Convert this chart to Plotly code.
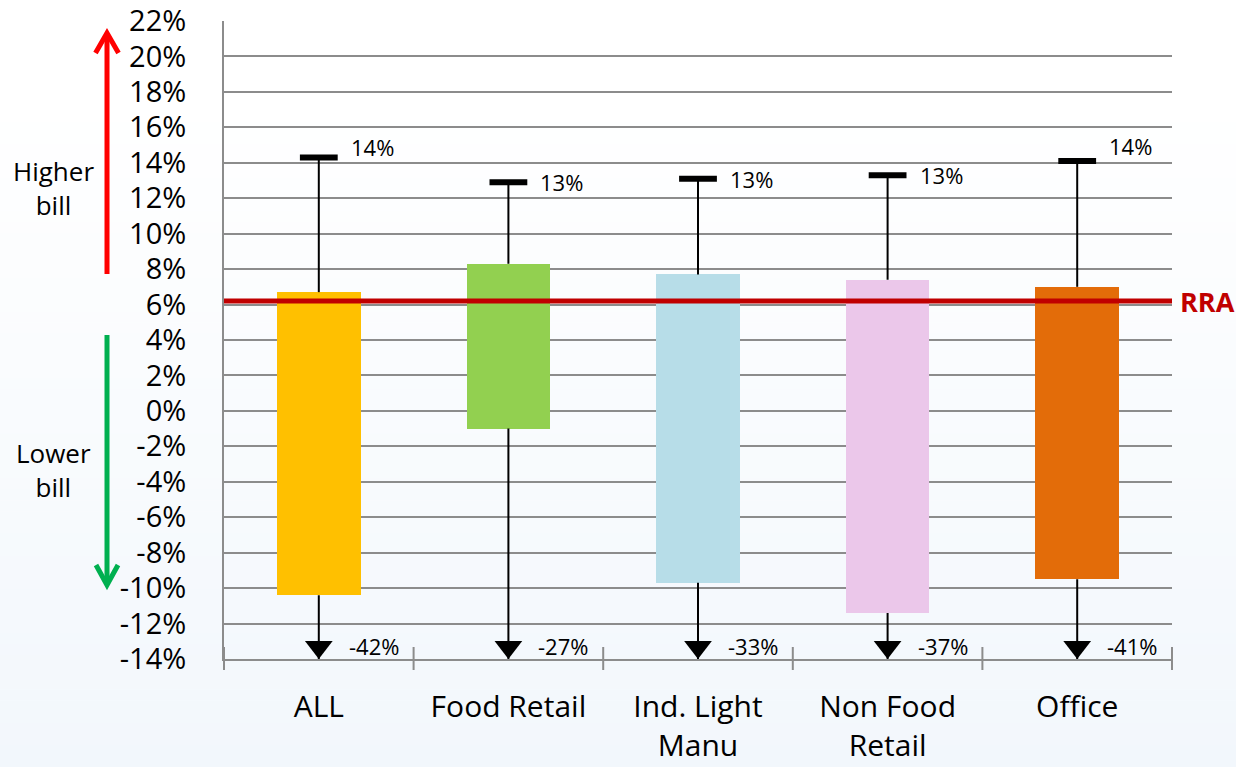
import plotly.graph_objects as go

# ---- data -------------------------------------------------------------
categories = ["ALL", "Food Retail", "Ind. Light<br>Manu", "Non Food<br>Retail", "Office"]
box_low = [-10.4, -1.0, -9.7, -11.4, -9.5]      # lower edge of the box (%)
box_high = [6.7, 8.3, 7.7, 7.4, 7.0]            # upper edge of the box (%)
whisker_max = [14.3, 12.9, 13.1, 13.3, 14.1]     # maximum (%)
whisker_min = [-42, -27, -33, -37, -41]          # minimum (%)
rra_level = 6.2                                  # RRA reference level (%)
y_ticks = list(range(-14, 23, 2))
y_tick_text = [f"{v}%" for v in y_ticks]

# ---- styling ----------------------------------------------------------
box_colors = ["#FFC000", "#92D050", "#B7DDE8", "#EBC7EA", "#E36C09"]
FONT = "Open Sans"
W, H = 1236, 767
ML, MR, MT, MB = 224, 64, 21, 108
PW, PH = W - ML - MR, H - MT - MB
Y_MIN, Y_MAX = y_ticks[0], y_ticks[-1]
GRID = "#8C8C8C"
label_lift = [10, 0, 0, 0, 15]  # vertical nudge of the max labels (px)


def px_x(x):
    return (x - ML) / PW


def px_y(y):
    return (H - MB - y) / PH


n = len(categories)
idx = list(range(n))
units_per_px = (Y_MAX - Y_MIN) / PH

fig = go.Figure()

# RRA reference line across the full plot width
fig.add_trace(go.Scatter(
    x=[-0.5, n - 0.5], y=[rra_level, rra_level], mode="lines",
    line=dict(color="#C00000", width=5), hoverinfo="skip", showlegend=False))

# whiskers (upper: box top -> max, lower: box bottom -> min, clipped by axis)
for i in idx:
    fig.add_trace(go.Scatter(
        x=[i, i], y=[box_high[i], whisker_max[i]], mode="lines",
        line=dict(color="black", width=2), hoverinfo="skip", showlegend=False))
    fig.add_trace(go.Scatter(
        x=[i, i], y=[box_low[i], whisker_min[i]], mode="lines",
        line=dict(color="black", width=2), hoverinfo="skip", showlegend=False))

# floating boxes
fig.add_trace(go.Bar(
    x=idx, y=[h - l for h, l in zip(box_high, box_low)], base=box_low,
    width=0.44, marker=dict(color=box_colors, line=dict(width=0)),
    hoverinfo="skip", showlegend=False))

# caps at the maxima
fig.add_trace(go.Scatter(
    x=idx, y=whisker_max, mode="markers",
    marker=dict(symbol="line-ew", size=27, line=dict(width=6, color="black")),
    hoverinfo="skip", showlegend=False, cliponaxis=False))

# arrow heads where the minimum falls below the axis
arrow_size = 24
arrow_x = [i for i in idx if whisker_min[i] < Y_MIN]
fig.add_trace(go.Scatter(
    x=arrow_x, y=[Y_MIN + (arrow_size / 2) * units_per_px] * len(arrow_x),
    mode="markers", marker=dict(symbol="triangle-down", size=arrow_size, color="black"),
    hoverinfo="skip", showlegend=False, cliponaxis=False))

annotations = []
for i in idx:
    annotations.append(dict(
        x=i, y=whisker_max[i], xref="x", yref="y", text=f"{whisker_max[i]:.0f}%",
        showarrow=False, xanchor="left", yanchor="middle", xshift=30, yshift=label_lift[i],
        font=dict(family=FONT, size=22, color="black")))
    annotations.append(dict(
        x=i, y=max(whisker_min[i], Y_MIN), xref="x", yref="y", text=f"{whisker_min[i]:.0f}%",
        showarrow=False, xanchor="left", yanchor="middle", xshift=28, yshift=13,
        font=dict(family=FONT, size=22, color="black")))

annotations.append(dict(
    x=1, y=rra_level, xref="paper", yref="y", text="<b>RRA</b>", showarrow=False,
    xanchor="left", yanchor="middle", xshift=6,
    font=dict(family=FONT, size=27, color="#C00000")))
annotations.append(dict(
    x=px_x(53), y=px_y(188), xref="paper", yref="paper", text="Higher<br>bill",
    showarrow=False, xanchor="center", yanchor="middle",
    font=dict(family=FONT, size=26, color="black")))
annotations.append(dict(
    x=px_x(53), y=px_y(470), xref="paper", yref="paper", text="Lower<br>bill",
    showarrow=False, xanchor="center", yanchor="middle",
    font=dict(family=FONT, size=26, color="black")))

shapes = []
# soft white-to-pale-blue page background
bands = 60
top_px, bot_px = 100, H
c0, c1 = (255, 255, 255), (242, 247, 252)
shapes.append(dict(type="rect", xref="paper", yref="paper",
                   x0=px_x(0), x1=px_x(W), y0=px_y(0), y1=px_y(top_px),
                   fillcolor="white", line=dict(width=0), layer="below"))
for k in range(bands):
    y0 = top_px + (bot_px - top_px) * k / bands
    y1 = top_px + (bot_px - top_px) * (k + 1) / bands
    t = (k + 0.5) / bands
    col = tuple(round(a + (b - a) * t) for a, b in zip(c0, c1))
    shapes.append(dict(type="rect", xref="paper", yref="paper",
                       x0=px_x(0), x1=px_x(W), y0=px_y(y0), y1=px_y(y1 + 0.5),
                       fillcolor="rgb(%d,%d,%d)" % col, line=dict(width=0), layer="below"))

# tick marks crossing the category axis at the category boundaries
for k in range(n + 1):
    shapes.append(dict(type="line", xref="paper", yref="paper",
                       x0=k / n, x1=k / n, y0=px_y(647), y1=px_y(670),
                       line=dict(color=GRID, width=2)))

# side arrows: up (higher bill) and down (lower bill)
def arrow(color, tail, tip, left, right):
    shapes.append(dict(type="line", xref="paper", yref="paper",
                       x0=px_x(tail[0]), y0=px_y(tail[1]), x1=px_x(tip[0]), y1=px_y(tip[1]),
                       line=dict(color=color, width=5)))
    path = "M %f,%f L %f,%f L %f,%f" % (px_x(left[0]), px_y(left[1]), px_x(tip[0]),
                                        px_y(tip[1]), px_x(right[0]), px_y(right[1]))
    shapes.append(dict(type="path", xref="paper", yref="paper", path=path,
                       line=dict(color=color, width=5)))


arrow("#FF0000", (107, 274), (107, 33), (95.5, 53), (118.5, 53))
arrow("#00B050", (107, 335), (107, 585), (96, 565), (118, 565))

fig.update_layout(
    width=W, height=H,
    margin=dict(l=ML, r=MR, t=MT, b=MB, pad=0, autoexpand=False),
    paper_bgcolor="white", plot_bgcolor="rgba(0,0,0,0)",
    bargap=0, showlegend=False,
    font=dict(family=FONT, color="black"),
    annotations=annotations, shapes=shapes,
    xaxis=dict(range=[-0.5, n - 0.5], tickvals=idx, ticktext=categories,
               showgrid=False, zeroline=False, showline=True, linecolor=GRID, linewidth=2,
               ticks="", ticklabelstandoff=20, automargin=False,
               tickfont=dict(family=FONT, size=30, color="black")),
    yaxis=dict(range=[Y_MIN, Y_MAX], tickvals=y_ticks, ticktext=y_tick_text,
               showgrid=True, gridcolor=GRID, gridwidth=2, zeroline=False,
               showline=True, linecolor=GRID, linewidth=2, ticks="",
               ticklabelstandoff=30, automargin=False,
               tickfont=dict(family=FONT, size=29, color="black")),
)

fig.write_html("out.html")
